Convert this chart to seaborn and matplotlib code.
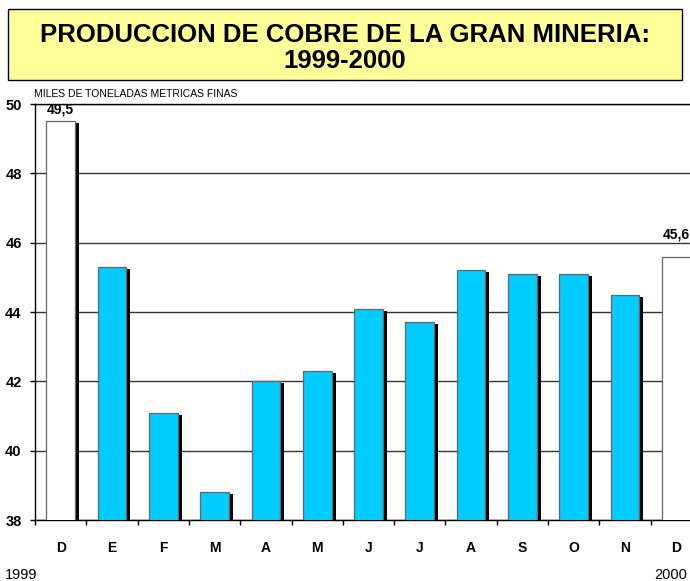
import numpy as np
import pandas as pd
import matplotlib
matplotlib.use("Agg")
import matplotlib.pyplot as plt
from matplotlib.patches import Rectangle
import seaborn as sns

# Data
meses = ["D", "E", "F", "M", "A", "M", "J", "J", "A", "S", "O", "N", "D"]
produccion = [49.5, 45.3, 41.1, 38.8, 42.0, 42.3, 44.1, 43.7, 45.2, 45.1, 45.1, 44.5, 45.6]
tipo = ["base", "mes", "mes", "mes", "mes", "mes", "mes", "mes", "mes", "mes", "mes", "mes", "base"]
etiquetas = {0: "49,5", 12: "45,6"}
y_ticks = [38, 40, 42, 44, 46, 48, 50]

sns.set_theme(style="white")
plt.rcParams["font.family"] = ["Liberation Sans", "DejaVu Sans"]
plt.rcParams["text.color"] = "black"
plt.rcParams["xtick.color"] = "black"
plt.rcParams["ytick.color"] = "black"

df = pd.DataFrame({"pos": np.arange(len(meses)), "valor": produccion, "tipo": tipo})

fig = plt.figure(figsize=(6.9, 5.81), dpi=100)
ax = fig.add_axes([35 / 690, 61 / 581, 667 / 690, 416 / 581])

# black drop shadow behind each bar
ax.bar(df["pos"] + 0.078, df["valor"] - 0.06, width=0.56, bottom=0,
       color="black", zorder=2, linewidth=0)

sns.barplot(data=df, x="pos", y="valor", hue="tipo", dodge=False, saturation=1,
            palette={"base": "white", "mes": "#00CCFF"}, width=0.56,
            edgecolor="#666666", linewidth=0.9, legend=False, zorder=3, ax=ax)

ax.set_xlim(-0.5, len(meses) - 0.5)
ax.set_ylim(38, 50)
ax.set_axisbelow(True)
ax.yaxis.grid(True, color="#333333", linewidth=1)
ax.xaxis.grid(False)

for s in ["left", "bottom", "top"]:
    ax.spines[s].set_visible(True)
    ax.spines[s].set_color("black")
    ax.spines[s].set_linewidth(1)
ax.spines["right"].set_visible(False)

ax.set_yticks(y_ticks)
ax.set_yticklabels([str(t) for t in y_ticks], fontsize=10.5, fontweight="bold")
ax.tick_params(axis="y", direction="out", length=3.6, width=1, pad=6, left=True)

ax.set_xticks(np.arange(len(meses) + 1) - 0.5)
ax.set_xticklabels([])
ax.set_xticks(np.arange(len(meses)), minor=True)
ax.set_xticklabels(meses, minor=True, fontsize=10, fontweight="bold")
ax.tick_params(axis="x", which="major", direction="out", length=3.6, width=1, bottom=True)
ax.tick_params(axis="x", which="minor", length=0, pad=15)
ax.set_xlabel("")
ax.set_ylabel("")

# value labels only on the two December bars
for i, txt in etiquetas.items():
    off = 3.5 if i == 0 else 11
    ax.annotate(txt, (i, produccion[i]), xytext=(0, off), textcoords="offset points",
                ha="center", va="bottom", fontsize=10, fontweight="bold", annotation_clip=False)

# title box
fig.patches.append(Rectangle((8 / 690, 1 - 80 / 581), 674 / 690, 71 / 581,
                             transform=fig.transFigure, facecolor="#FFFF99",
                             edgecolor="black", linewidth=1))
fig.text(0.5, 1 - 35 / 581, "PRODUCCION DE COBRE DE LA GRAN MINERIA:", ha="center",
         va="center", fontsize=18.5, fontweight="bold")
fig.text(0.5, 1 - 61 / 581, "1999-2000", ha="center", va="center",
         fontsize=18.5, fontweight="bold")

fig.text(34 / 690, 1 - 94 / 581, "MILES DE TONELADAS METRICAS FINAS", ha="left",
         va="center", fontsize=7.5)
fig.text(5 / 690, 1 - 575 / 581, "1999", ha="left", va="center", fontsize=10.5)
fig.text(687 / 690, 1 - 575 / 581, "2000", ha="right", va="center", fontsize=10.5)

fig.savefig("out.png", dpi=100)
